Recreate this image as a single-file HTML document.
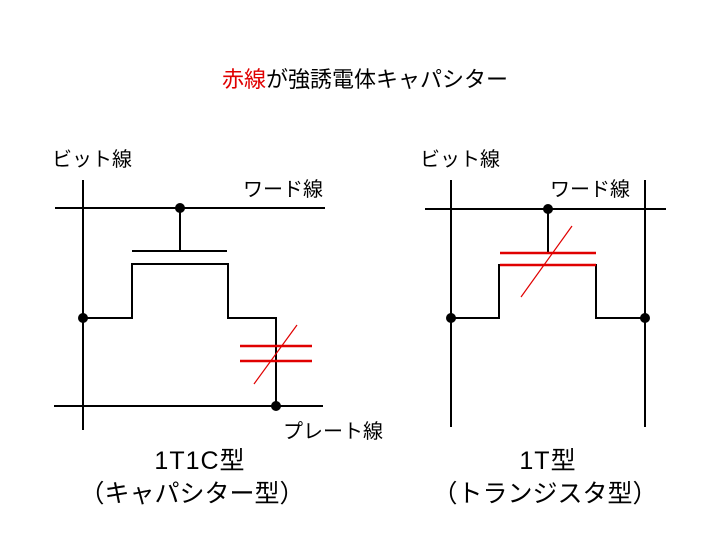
<!DOCTYPE html>
<html><head><meta charset="utf-8"><style>
body{margin:0;width:720px;height:540px;background:#fff;overflow:hidden}
svg text{font-family:"Liberation Sans","Noto Sans CJK JP",sans-serif;fill:#000}
</style></head><body>
<svg width="720" height="540" xmlns="http://www.w3.org/2000/svg">
<text x="365" y="87" font-size="22" text-anchor="middle"><tspan fill="#e00000">赤線</tspan>が強誘電体キャパシター</text>
<g stroke="#000" stroke-width="2" fill="none">
<line x1="83" y1="180" x2="83" y2="430"/>
<line x1="55" y1="208" x2="325" y2="208"/>
<line x1="180" y1="208" x2="180" y2="251"/>
<line x1="132" y1="251" x2="227" y2="251"/>
<polyline points="83,318 132,318 132,264 228,264 228,318 276,318 276,406"/>
<line x1="54" y1="406" x2="323" y2="406"/>
<line x1="451" y1="180" x2="451" y2="427"/>
<line x1="645" y1="180" x2="645" y2="427"/>
<line x1="425" y1="209" x2="666" y2="209"/>
<line x1="548" y1="209" x2="548" y2="253"/>
<polyline points="451,318 499,318 499,265 596,265 596,318 645,318"/>
</g>
<g fill="#000">
<circle cx="180" cy="208" r="5"/><circle cx="83" cy="318" r="5"/><circle cx="276" cy="406" r="5"/>
<circle cx="548" cy="209" r="5"/><circle cx="451" cy="318" r="5"/><circle cx="645" cy="318" r="5"/>
</g>
<g stroke="#e00000" stroke-width="2.5">
<line x1="240" y1="346" x2="312" y2="346"/><line x1="240" y1="361" x2="312" y2="361"/>
<line x1="500" y1="253" x2="596" y2="253"/><line x1="500" y1="265" x2="596" y2="265"/>
</g>
<g stroke="#e00000" stroke-width="1.2">
<line x1="254" y1="384" x2="297" y2="325"/>
<line x1="521" y1="297" x2="572" y2="226"/>
</g>
<g font-size="20">
<text x="52" y="166">ビット線</text>
<text x="243" y="196">ワード線</text>
<text x="283" y="438">プレート線</text>
<text x="420" y="166">ビット線</text>
<text x="550" y="196">ワード線</text>
</g>
<g font-size="25" text-anchor="middle">
<text x="200" y="469" letter-spacing="1">1T1C型</text>
<text x="192" y="502">（キャパシター型）</text>
<text x="548" y="469" letter-spacing="1">1T型</text>
<text x="545" y="502">（トランジスタ型）</text>
</g>
</svg>
</body></html>
